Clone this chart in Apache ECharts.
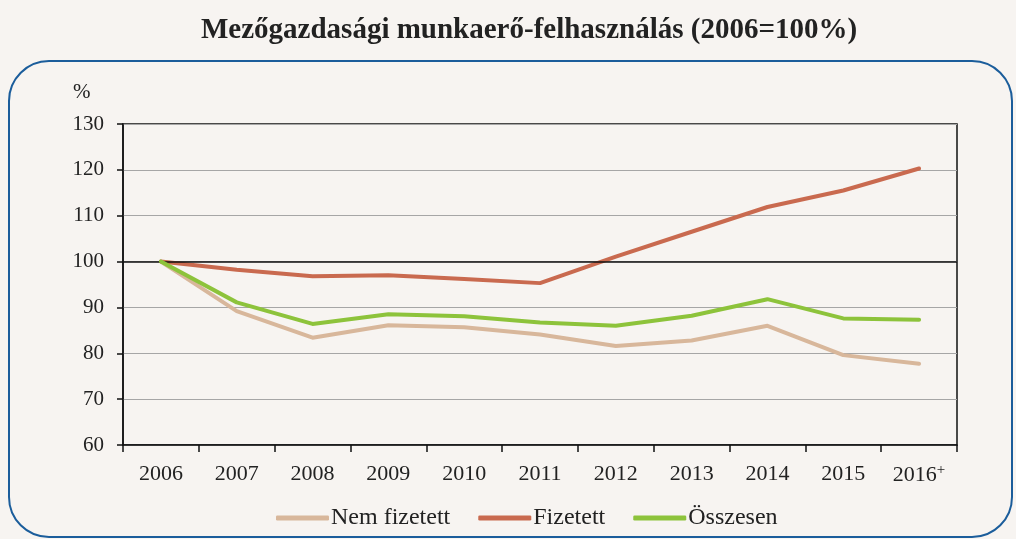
<!DOCTYPE html>
<html><head><meta charset="utf-8">
<script src="https://cdn.jsdelivr.net/npm/echarts@6/dist/echarts.min.js"></script>
<style>html,body{margin:0;padding:0;background:#f7f4f1}#c{width:1016px;height:539px}</style>
</head><body><div id="c"></div>
<script>
const categories = ['2006','2007','2008','2009','2010','2011','2012','2013','2014','2015','2016+'];
const nemFizetett = [100, 89.2, 83.4, 86.1, 85.7, 84.1, 81.6, 82.8, 86.0, 79.6, 77.7];
const fizetett    = [100, 98.2, 96.8, 97.0, 96.2, 95.3, 101.1, 106.5, 111.9, 115.5, 120.3];
const osszesen    = [100, 91.1, 86.4, 88.5, 88.1, 86.7, 86.0, 88.2, 91.8, 87.6, 87.3];
const yTicks = [60, 70, 80, 90, 100, 110, 120, 130];
const seriesNames = ['Nem fizetett', 'Fizetett', 'Összesen'];
const colors = ['#d8b79b', '#c96a4f', '#8dc33b'];

const FONT = '"Liberation Serif", "DejaVu Serif", serif';
const chart = echarts.init(document.getElementById('c'));
const vals = [nemFizetett, fizetett, osszesen];
chart.setOption({
  backgroundColor: '#f7f4f1',
  animation: false,
  title: {
    text: 'Mezőgazdasági munkaerő-felhasználás (2006=100%)',
    left: 196, top: 11,
    textStyle: { fontFamily: FONT, fontSize: 29, fontWeight: 'bold', color: '#222' }
  },
  graphic: [
    { type: 'rect', shape: { x: 9, y: 61, width: 1003, height: 476, r: 40 },
      style: { fill: 'none', stroke: '#1b5d9b', lineWidth: 2 }, z: 0 },
    { type: 'text', left: 73, top: 82, style: { text: '%', font: '21px ' + FONT, fill: '#222' } }
  ],
  legend: {
    bottom: 4, left: 271,
    itemWidth: 53, itemHeight: 5, itemGap: 28,
    icon: 'roundRect',
    textStyle: { fontFamily: FONT, fontSize: 24, color: '#222', padding: [0,0,0,-3] },
    data: seriesNames
  },
  grid: { left: 123, right: 59, top: 124, bottom: 94, show: true, borderColor: '#111', borderWidth: 1.5, backgroundColor: 'transparent' },
  xAxis: {
    type: 'category', data: categories, boundaryGap: true,
    axisLine: { lineStyle: { color: '#111', width: 1.5 } },
    axisTick: { show: true, interval: 0, length: 7, lineStyle: { color: '#111', width: 1.5 } },
    axisLabel: {
      interval: 0, margin: 18, fontFamily: FONT, fontSize: 22, color: '#222',
      formatter: v => v.endsWith('+') ? v.slice(0, -1) + '{sup|+}' : v,
      rich: { sup: { fontFamily: FONT, fontSize: 15, color: '#222', verticalAlign: 'top', padding: [0,0,10,0] } }
    }
  },
  yAxis: {
    type: 'value', min: 60, max: 130, interval: 10,
    axisLine: { show: true, lineStyle: { color: '#111', width: 1.5 } },
    axisTick: { show: true, length: 6, lineStyle: { color: '#111', width: 1.5 } },
    axisLabel: { margin: 19, fontFamily: FONT, fontSize: 21, color: '#222',
      formatter: v => yTicks.includes(v) ? String(v) : '' },
    splitLine: { lineStyle: { color: '#a6a6a6', width: 1.2 } }
  },
  series: seriesNames.map((n, i) => ({
    name: n, type: 'line', data: vals[i], symbol: 'none',
    lineStyle: { color: colors[i], width: 4, cap: 'round', join: 'round' },
    itemStyle: { color: colors[i] },
    z: 3 + i,
    markLine: i === 0 ? { silent: true, symbol: 'none', label: { show: false },
      lineStyle: { color: '#111', width: 1.5, type: 'solid' }, data: [{ yAxis: 100 }] } : undefined
  }))
});
</script></body></html>
